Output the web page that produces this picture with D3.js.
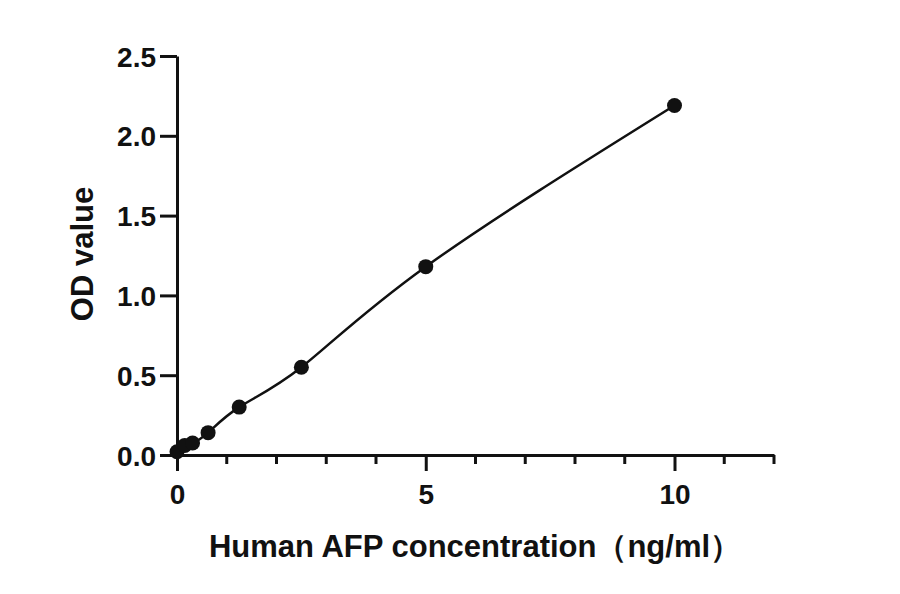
<!DOCTYPE html>
<html>
<head>
<meta charset="utf-8">
<script src="https://cdn.jsdelivr.net/npm/d3@7"></script>
<style>
  body { margin: 0; background: #fff; }
  svg text { font-family: "Liberation Sans", Arial, sans-serif; font-weight: bold; fill: #111; }
</style>
</head>
<body>
<svg id="chart" width="900" height="594"></svg>
<script>
// standard curve: concentration (ng/ml) vs OD
const concentrations = [0, 0.156, 0.3125, 0.625, 1.25, 2.5, 5, 10];
const odValues = [0.02, 0.06, 0.075, 0.14, 0.30, 0.55, 1.18, 2.19];
const xMajorTicks = [0, 5, 10];
const xMinorTicks = [1, 2, 3, 4, 6, 7, 8, 9, 11, 12];
const yTicks = [0, 0.5, 1.0, 1.5, 2.0, 2.5];

const svg = d3.select("#chart");
const x = d3.scaleLinear().domain([0, 12]).range([177, 774]);
const y = d3.scaleLinear().domain([0, 2.5]).range([455, 56]);

const axisW = 3;

// y axis
const yAxis = d3.axisLeft(y).tickValues(yTicks).tickFormat(d3.format(".1f"))
  .tickSize(17).tickPadding(4).tickSizeOuter(0);
svg.append("g").attr("transform", `translate(${x(0)},0)`).call(yAxis)
  .call(g => g.selectAll("line, path").attr("stroke", "#111").attr("stroke-width", axisW))
  .call(g => g.selectAll("text").style("font-size", "28px").attr("dy", "0.36em"));

// x axis (major)
const xAxis = d3.axisBottom(x).tickValues(xMajorTicks).tickFormat(d3.format("d"))
  .tickSize(16).tickPadding(13).tickSizeOuter(0);
svg.append("g").attr("transform", `translate(0,${y(0)})`).call(xAxis)
  .call(g => g.selectAll("line, path").attr("stroke", "#111").attr("stroke-width", axisW))
  .call(g => g.selectAll("text").style("font-size", "28px"));

// x minor ticks
svg.append("g").selectAll("line").data(xMinorTicks).join("line")
  .attr("x1", d => x(d)).attr("x2", d => x(d))
  .attr("y1", y(0)).attr("y2", y(0) + 9)
  .attr("stroke", "#111").attr("stroke-width", axisW);

// fitted line
const pts = concentrations.map((c, i) => [c, odValues[i]]);
const line = d3.line().x(d => x(d[0])).y(d => y(d[1])).curve(d3.curveNatural);
svg.append("path").datum(pts).attr("d", line)
  .attr("fill", "none").attr("stroke", "#111").attr("stroke-width", 2.5);

// points
svg.append("g").selectAll("circle").data(pts).join("circle")
  .attr("cx", d => x(d[0])).attr("cy", d => y(d[1])).attr("r", 7.5)
  .attr("fill", "#111");

// axis titles
svg.append("text").attr("x", 475).attr("y", 557).attr("text-anchor", "middle")
  .style("font-size", "31px").text("Human AFP concentration（ng/ml）");
svg.append("text").attr("transform", "translate(93,254) rotate(-90)")
  .attr("text-anchor", "middle").style("font-size", "31px").text("OD value");
</script>
</body>
</html>
